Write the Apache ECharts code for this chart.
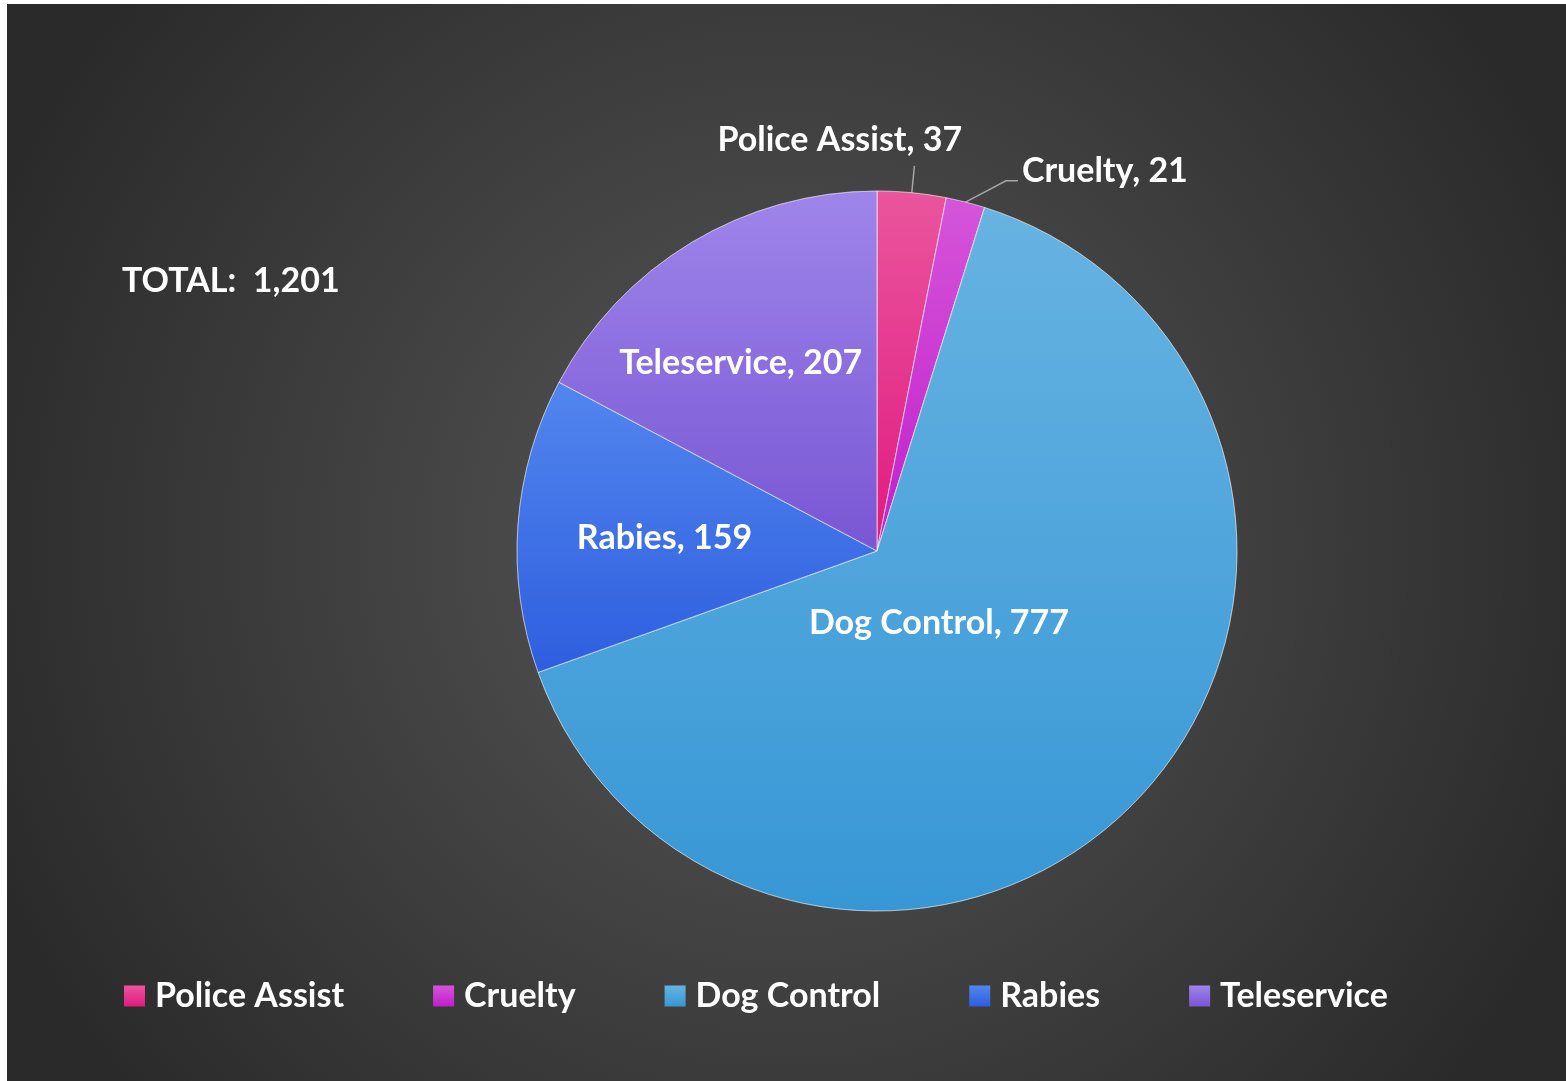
<!DOCTYPE html>
<html>
<head>
<meta charset="utf-8">
<script src="https://cdn.jsdelivr.net/npm/echarts@6/dist/echarts.min.js"></script>
<style>
  html, body { margin: 0; padding: 0; background: #ffffff; }
  #chart { position: absolute; left: 7px; top: 4px; width: 1559px; height: 1077px; }
</style>
</head>
<body>
<div id="chart"></div>
<script>
// 数据
const categories = ['Police Assist', 'Cruelty', 'Dog Control', 'Rabies', 'Teleservice']
const values = [37, 21, 777, 159, 207]
const totalText = 'TOTAL:  1,201'

// 颜色 (上 -> 下渐变)
const colorsTop = ['#ea559d', '#d555d9', '#67b3e2', '#5286ee', '#9e85ea']
const colorsBottom = ['#e01a80', '#c11ecb', '#3797d5', '#2e5edf', '#7956d4']

// 标签微调
const labelShift = [[-201, -26], [0, -10], [-70, -55], [-30, 0], [-42, -31]]

const font = 'Lato, "Open Sans", sans-serif'

const chart = echarts.init(document.getElementById('chart'))

const seriesData = categories.map((name, i) => {
  const outside = i < 2
  return {
    name: name,
    value: values[i],
    itemStyle: {
      color: new echarts.graphic.LinearGradient(0, 0, 0, 1, [
        { offset: 0, color: colorsTop[i] },
        { offset: 1, color: colorsBottom[i] }
      ])
    },
    label: {
      position: outside ? 'outside' : 'inside'
    },
    labelLine: {
      show: outside,
      length: i === 0 ? 27 : 22,
      length2: i === 0 ? 0 : 47
    }
  }
})

const option = {
  backgroundColor: new echarts.graphic.RadialGradient(0.5, 0.5, 0.8, [
    { offset: 0, color: '#575757' },
    { offset: 1, color: '#2a2a2a' }
  ]),
  textStyle: { fontFamily: font },
  title: {
    text: totalText,
    left: 110,
    top: 255,
    textStyle: {
      color: '#ffffff',
      fontSize: 34,
      fontWeight: 'bold',
      fontFamily: font
    }
  },
  legend: {
    top: 970,
    left: 112,
    icon: 'rect',
    itemWidth: 21,
    itemHeight: 21,
    itemGap: 89,
    itemStyle: { borderWidth: 0 },
    textStyle: {
      color: '#ffffff',
      fontSize: 34,
      fontWeight: 'bold',
      fontFamily: font,
      padding: [0, 0, 0, 5]
    },
    data: categories
  },
  series: [{
    type: 'pie',
    center: [870, 547],
    radius: 360,
    startAngle: 90,
    clockwise: true,
    avoidLabelOverlap: false,
    data: seriesData,
    itemStyle: {
      borderColor: 'rgba(255,255,255,0.35)',
      borderWidth: 1
    },
    label: {
      show: true,
      formatter: '{b}, {c}',
      color: '#ffffff',
      fontSize: 34,
      fontWeight: 'bold',
      fontFamily: font,
      distanceToLabelLine: 4
    },
    labelLine: {
      lineStyle: { color: '#a6a6a6', width: 1.5 }
    },
    labelLayout: function (params) {
      const s = labelShift[params.dataIndex]
      const out = { dx: s[0], dy: s[1] }
      // 引导线: 斜线 + 短水平段
      const pts = params.labelLinePoints
      if (params.dataIndex === 1 && pts && pts.length === 3) {
        const end = pts[2]
        out.labelLinePoints = [pts[0], [end[0] - 12, end[1]], end]
      }
      return out
    },
    emphasis: { scale: false }
  }]
}

chart.setOption(option)

window.addEventListener('resize', () => {
  chart && chart.resize()
})
</script>
</body>
</html>
